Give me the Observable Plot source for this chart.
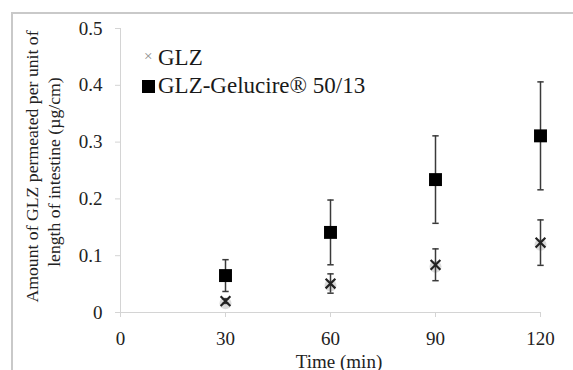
<!DOCTYPE html>
<html><head><meta charset="utf-8">
<script src="https://cdn.jsdelivr.net/npm/d3@7"></script>
<script src="https://cdn.jsdelivr.net/npm/@observablehq/plot@0.6"></script>
<style>
body{margin:0;background:#fff;}
#wrap{position:relative;width:573px;height:370px;overflow:hidden;font-family:"Liberation Serif","Times New Roman",serif;background:#fff;}
#wrap svg{position:absolute;left:0;top:0;}
#border{position:absolute;left:11px;top:12px;right:-5px;bottom:-5px;border-left:2px solid #c9c9c9;border-top:2px solid #c9c9c9;}
.leg{position:absolute;font-size:23px;color:#1a1a1a;white-space:nowrap;line-height:1;}
.sq{position:absolute;background:#000;}
</style></head><body>
<div id="wrap"><div id="border"></div></div>
<script>
const times = [30, 60, 90, 120];
const seriesNames = ["GLZ", "GLZ-Gelucire® 50/13"];
const glzMean = [0.020, 0.051, 0.084, 0.123];
const glzSd = [0.004, 0.017, 0.028, 0.040];
const gelMean = [0.065, 0.141, 0.234, 0.311];
const gelSd = [0.028, 0.057, 0.077, 0.095];
const xTicks = [0, 30, 60, 90, 120];
const yTicks = [0, 0.1, 0.2, 0.3, 0.4, 0.5];
const yTickLabels = ["0", "0.1", "0.2", "0.3", "0.4", "0.5"];
const yLabel1 = "Amount of GLZ permeated per unit of";
const yLabel2 = "length of intestine (µg/cm)";
const xLabel = "Time (min)";

const rows = (means, sds, series) => times.map((t, i) => ({series, time: t, mean: means[i], lo: means[i] - sds[i], hi: means[i] + sds[i]}));
const glz = rows(glzMean, glzSd, seriesNames[0]);
const gel = rows(gelMean, gelSd, seriesNames[1]);
const all = glz.concat(gel);
const cap = {draw(ctx, size) { const w = Math.sqrt(size) / 2; ctx.moveTo(-w, 0); ctx.lineTo(w, 0); }};
const axisGray = "#d4d4d4";
const ink = "#222";
const errInk = "#3a3a3a";

const chart = Plot.plot({
  width: 573, height: 370,
  marginLeft: 120, marginRight: 33, marginTop: 28, marginBottom: 58,
  style: {fontFamily: '"Liberation Serif","Times New Roman",serif', fontSize: "19px", background: "transparent", color: ink},
  x: {domain: [0, 120]},
  y: {domain: [0, 0.5]},
  marks: [
    Plot.ruleY([0], {stroke: axisGray}),
    Plot.ruleX([0], {stroke: axisGray}),
    Plot.axisX({ticks: xTicks, tickSize: 5, tickPadding: 14, stroke: axisGray, fill: ink, label: null, tickFormat: d => String(d)}),
    Plot.axisY({ticks: yTicks, tickSize: 5, tickPadding: 13, stroke: axisGray, fill: ink, label: null, tickFormat: (d, i) => yTickLabels[i]}),
    Plot.dot(glz, {x: "time", y: "mean", r: 6, fill: "#999", fillOpacity: 0.35, dy: 2}),
    Plot.ruleX(all, {x: "time", y1: "lo", y2: "hi", stroke: errInk, strokeWidth: 1.5}),
    Plot.dot(all, {x: "time", y: "lo", symbol: cap, r: 3.6, stroke: errInk, strokeWidth: 1.5, fill: "none"}),
    Plot.dot(all, {x: "time", y: "hi", symbol: cap, r: 3.6, stroke: errInk, strokeWidth: 1.5, fill: "none"}),
    Plot.dot(gel, {x: "time", y: "mean", symbol: "square", r: 7.3, fill: "#000"}),
    Plot.dot(glz, {x: "time", y: "mean", symbol: "times", r: 4.5, stroke: ink, strokeWidth: 2.2}),
    Plot.text([yLabel1], {text: d => d, frameAnchor: "left", textAnchor: "middle", lineAnchor: "middle", rotate: -90, dx: -88, dy: -4, fontSize: 17.7, fill: ink}),
    Plot.text([yLabel2], {text: d => d, frameAnchor: "left", textAnchor: "middle", lineAnchor: "middle", rotate: -90, dx: -66, dy: 1.6, fontSize: 17.7, fill: ink}),
    Plot.text([xLabel], {text: d => d, frameAnchor: "bottom", textAnchor: "middle", lineAnchor: "bottom", dx: 8.5, dy: 55, fontSize: 19, fill: ink})
  ]
});
const wrap = document.getElementById("wrap");
wrap.insertBefore(chart, wrap.firstChild);

// legend
function addText(txt, left, top, cls, extra) {
  const s = document.createElement("div");
  s.className = cls; s.textContent = txt;
  s.style.left = left + "px"; s.style.top = top + "px";
  if (extra) Object.assign(s.style, extra);
  wrap.appendChild(s);
}
addText("×", 144, 47, "leg", {fontSize: "15px", color: "#8a8a8a", top: "49px"});
addText(seriesNames[0], 158, 45.7, "leg");
const sq = document.createElement("div");
sq.className = "sq"; Object.assign(sq.style, {left: "142px", top: "80px", width: "13px", height: "13px"});
wrap.appendChild(sq);
addText(seriesNames[1], 158, 73.7, "leg");
</script>
</body></html>
